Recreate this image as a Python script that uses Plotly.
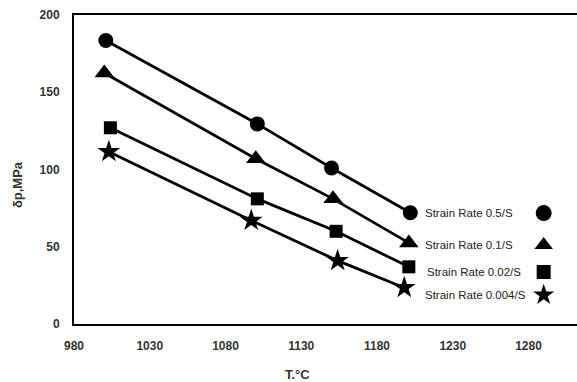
import plotly.graph_objects as go

temps_05 = [1001, 1101, 1150, 1202]
sigma_05 = [183.5, 129.5, 101, 72]
temps_01 = [1000, 1100, 1151, 1201]
sigma_01 = [162.5, 107, 81, 52.5]
temps_002 = [1004, 1101, 1153, 1201]
sigma_002 = [127, 81, 60, 37]
temps_0004 = [1003, 1097, 1154, 1198]
sigma_0004 = [111.5, 67, 41, 23.5]

labels = ["Strain Rate 0.5/S", "Strain Rate 0.1/S", "Strain Rate 0.02/S", "Strain Rate 0.004/S"]
x_ticks = [980, 1030, 1080, 1130, 1180, 1230, 1280]
y_ticks = [0, 50, 100, 150, 200]

series = [
    (temps_05, sigma_05, "circle", 15, 16),
    (temps_01, sigma_01, "triangle-up", 17, 18),
    (temps_002, sigma_002, "square", 13, 14),
    (temps_0004, sigma_0004, "star", 17, 18),
]
legend_y = [0.359, 0.256, 0.168, 0.094]
label_x = [0.694, 0.694, 0.698, 0.694]

fig = go.Figure()
for i, (xs, ys, sym, sz, lsz) in enumerate(series):
    fig.add_trace(go.Scatter(
        x=xs, y=ys, mode="lines+markers", showlegend=False,
        line=dict(color="black", width=2.8),
        marker=dict(symbol=sym, size=sz, color="black"),
        cliponaxis=False, hoverinfo="skip",
    ))
    lname = "legend" if i == 0 else f"legend{i+1}"
    fig.add_trace(go.Scatter(
        x=[None], y=[None], mode="markers", name=" ",
        marker=dict(symbol=sym, size=lsz, color="black"),
        legend=lname, showlegend=True,
    ))

annotations = []
for i, lab in enumerate(labels):
    annotations.append(dict(
        text=lab, xref="paper", yref="paper", x=label_x[i], y=legend_y[i],
        xanchor="left", yanchor="middle", showarrow=False,
        font=dict(family="Liberation Sans", size=11.5, color="#222"),
    ))
annotations.append(dict(
    text="<b>T.°C</b>", xref="paper", yref="paper", x=0.445, y=-0.162,
    xanchor="center", yanchor="middle", showarrow=False,
    font=dict(family="Liberation Sans", size=13, color="#333"),
))
annotations.append(dict(
    text="<b>δp,MPa</b>", xref="paper", yref="paper", x=-0.111, y=0.45,
    xanchor="center", yanchor="middle", showarrow=False, textangle=-90,
    font=dict(family="Liberation Sans", size=13, color="#333"),
))

layout_legends = {}
for i in range(4):
    key = "legend" if i == 0 else f"legend{i+1}"
    layout_legends[key] = dict(
        x=0.894, y=legend_y[i], xanchor="left", yanchor="middle",
        bgcolor="rgba(0,0,0,0)", borderwidth=0,
        font=dict(size=10), itemclick=False,
    )

fig.update_layout(
    width=577, height=382,
    margin=dict(l=74, r=0, t=15, b=58, autoexpand=False),
    paper_bgcolor="white", plot_bgcolor="white",
    font=dict(family="Liberation Sans", color="#333"),
    xaxis=dict(range=[980, 1312], tickvals=x_ticks, showgrid=False, zeroline=False,
               showline=True, linecolor="black", linewidth=2, mirror=True,
               ticks="", ticklabelstandoff=10,
               tickfont=dict(family="Liberation Sans", size=12, color="#333", weight="bold")),
    yaxis=dict(range=[0, 200], tickvals=y_ticks, showgrid=False, zeroline=False,
               showline=True, linecolor="black", linewidth=2,
               ticks="", ticklabelstandoff=10,
               tickfont=dict(family="Liberation Sans", size=12, color="#333", weight="bold")),
    annotations=annotations,
    hovermode=False,
    **layout_legends,
)

fig.write_html(
    "out.html",
    config={"displayModeBar": False},
    post_script="document.body.style.margin='0';document.body.style.overflow='hidden';",
)
